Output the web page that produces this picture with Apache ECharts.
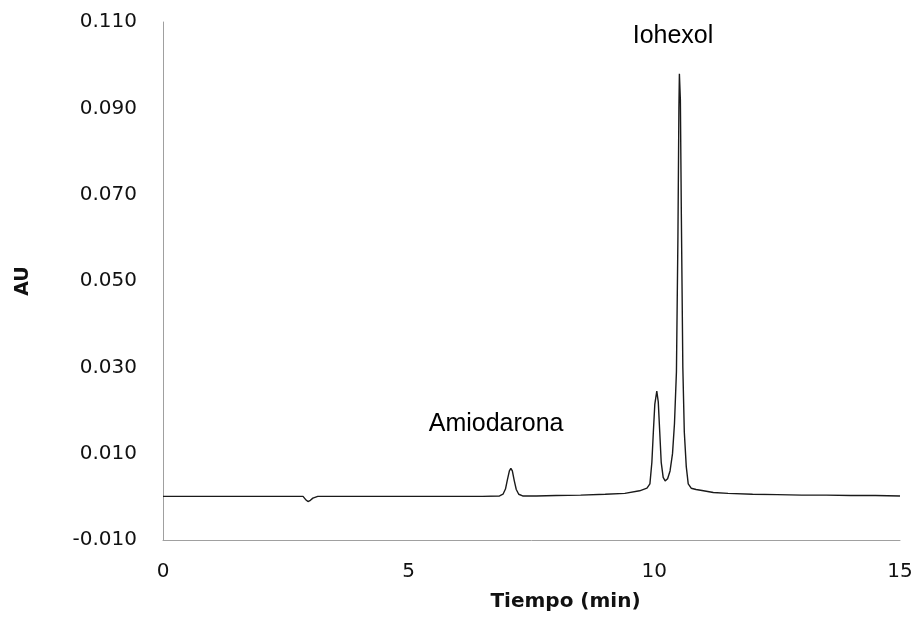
<!DOCTYPE html>
<html>
<head>
<meta charset="utf-8">
<script src="https://cdn.jsdelivr.net/npm/echarts@6/dist/echarts.min.js"></script>
<style>
html,body{margin:0;padding:0;background:#fff;}
#chart{width:917px;height:617px;}
</style>
</head>
<body>
<div id="chart"></div>
<script>
// Chromatogram data (time in min, absorbance in AU)
const timeMin = [0,0.5,1.0,1.5,2.0,2.5,2.85,2.90,2.95,3.00,3.05,3.15,3.5,3.85,3.88,3.92,4.5,5.0,5.5,6.0,6.5,
  6.85,6.92,6.97,7.01,7.05,7.08,7.11,7.15,7.19,7.24,7.32,7.6,8.0,8.5,9.0,9.4,9.7,9.85,9.91,9.95,9.98,
  10.01,10.05,10.08,10.11,10.14,10.18,10.22,10.27,10.32,10.37,10.41,10.45,10.48,10.50,10.51,10.53,10.55,
  10.58,10.61,10.65,10.69,10.75,10.85,11.0,11.2,11.5,12.0,12.5,13.0,13.5,14.0,14.5,15.0];
const absAU = [0.0001,0.0001,0.0001,0.0001,0.0001,0.0001,0.0001,-0.0006,-0.0011,-0.0008,-0.0003,0.0001,0.0001,0.0001,-0.0002,0.0001,0.0001,0.0001,0.0001,0.0001,0.0001,
  0.0002,0.0006,0.0018,0.0040,0.0060,0.0066,0.0060,0.0037,0.0017,0.0006,0.0002,0.0002,0.0003,0.0004,0.0006,0.0008,0.0014,0.0020,0.0030,0.0080,0.0150,
  0.0215,0.0245,0.0220,0.0150,0.0080,0.0045,0.0037,0.0042,0.0060,0.0100,0.0170,0.0290,0.0600,0.0900,0.0980,0.0920,0.0650,
  0.0300,0.0150,0.0070,0.0030,0.0020,0.0017,0.0014,0.0010,0.0008,0.0006,0.0005,0.0004,0.0004,0.0003,0.0003,0.0002];

const xTitle = 'Tiempo (min)';
const yTitle = 'AU';
const peakNames = ['Iohexol', 'Amiodarona'];
const peakLabelPos = [[10.38, 0.1068], [6.78, 0.0168]];

const chart = echarts.init(document.getElementById('chart'), null, {renderer: 'canvas'});
const seriesData = timeMin.map((t, i) => [t, absAU[i]]);

chart.setOption({
  animation: false,
  backgroundColor: '#ffffff',
  grid: {left: 163, right: 17, top: 22, bottom: 75, containLabel: false},
  xAxis: {
    type: 'value', min: 0, max: 15, interval: 5,
    axisLine: {show: true, onZero: false, lineStyle: {color: '#a0a0a0', width: 1}},
    axisTick: {show: false},
    splitLine: {show: false},
    axisLabel: {color: '#111', fontFamily: 'DejaVu Sans', fontSize: 20, margin: 22},
    name: xTitle, nameLocation: 'middle', nameGap: 52,
    nameTextStyle: {color: '#111', fontFamily: 'DejaVu Sans', fontWeight: 'bold', fontSize: 20, padding: [0, 0, 0, 68]}
  },
  yAxis: {
    type: 'value', min: -0.01, max: 0.11, interval: 0.02,
    axisLine: {show: true, onZero: false, lineStyle: {color: '#a0a0a0', width: 1}},
    axisTick: {show: false},
    splitLine: {show: false},
    axisLabel: {color: '#111', fontFamily: 'DejaVu Sans', fontSize: 20, margin: 26,
      formatter: v => v.toFixed(3)},
    name: yTitle, nameLocation: 'middle', nameGap: 130, nameRotate: 90,
    nameTextStyle: {color: '#111', fontFamily: 'DejaVu Sans', fontWeight: 'bold', fontSize: 19}
  },
  series: [{
    type: 'line',
    data: seriesData,
    showSymbol: false,
    symbol: 'none',
    lineStyle: {color: '#1a1a1a', width: 1.4},
    markPoint: {
      symbol: 'circle', symbolSize: 0,
      label: {show: true, position: 'inside', color: '#000', fontFamily: 'Liberation Sans', fontSize: 25,
        formatter: p => p.name},
      data: peakNames.map((n, i) => ({name: n, coord: peakLabelPos[i]}))
    }
  }]
});
</script>
</body>
</html>
